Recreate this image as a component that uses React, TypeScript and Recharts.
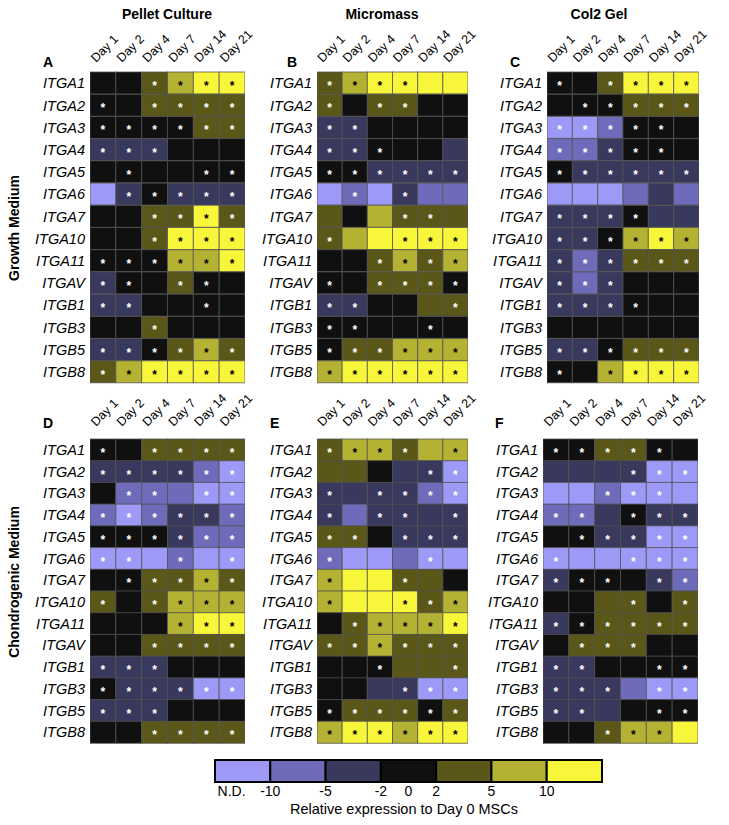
import React from "react";
import { BarChart, Bar, XAxis, YAxis } from "recharts";

const genes = ["ITGA1", "ITGA2", "ITGA3", "ITGA4", "ITGA5", "ITGA6", "ITGA7", "ITGA10", "ITGA11", "ITGAV", "ITGB1", "ITGB3", "ITGB5", "ITGB8"];
const days = ["Day 1", "Day 2", "Day 4", "Day 7", "Day 14", "Day 21"];

// codes: n = N.D., p = -10..-5, d = -5..-2, b = -2..2, o = 2..5, l = 5..10, y = >10 ; "*" = significant
const pelletGrowth = [
  "b b o* l* y* y*",
  "b* b o* o* o* o*",
  "b* b* b* b* o* o*",
  "d* d* d* b b b",
  "b b* b b b* b*",
  "n d* b* d* d* d*",
  "b b o* o* y* o*",
  "b b o* y* y* y*",
  "b* b* b* l* l* y*",
  "d* b* b o* b* b",
  "d* d* b b b* b",
  "b b o* b b b",
  "d* d* b* o* l* o*",
  "o* l* y* y* y* y*",
];
const micromassGrowth = [
  "o* l* y* y* y y",
  "o* b o* o* b b",
  "d* d* b b b b",
  "d* d* b* b b d",
  "b* b* d* d* d* d*",
  "n p* n d* p p",
  "o b l o* o* o",
  "o* l y y* y* y*",
  "b b o* l* o* l*",
  "b* b o* o* o* b*",
  "d* d* b b o o*",
  "b* b* b b b* b",
  "b* o* o* l* l* l*",
  "l* y* y* y* y* y*",
];
const col2Growth = [
  "b* b o* y* y* y*",
  "b b* b* o* o* o*",
  "n* n* p* b* b* b",
  "p* p* d* b* b* b",
  "b* d* d* d* d* d*",
  "n n n p d p",
  "d* d* d* b* d d",
  "d* d* b* l* y* l*",
  "d* p* d* o* o* o*",
  "d* p* d* b b b",
  "d* d* d* b* b b",
  "b b b b b b",
  "d* d* b* o* o* o*",
  "b* b l* y* y* y*",
];
const pelletChondro = [
  "b* b o* o* o* o*",
  "d* d* d* d* p* n*",
  "b p* p* p n* n*",
  "p* n* p* d* d* p*",
  "b* b* b* d* p* p*",
  "n* n* n p* n n*",
  "b b* o* o* l* o*",
  "o* b o* l* l* l*",
  "b b b l* y* y*",
  "b b o* o* o* o*",
  "d* d* d* b b b",
  "b* d* d* d* n* n*",
  "d* d* d* b b b",
  "b b o* o* o* o*",
];
const micromassChondro = [
  "o* l* l* o* l l*",
  "o o b d d* n*",
  "d* d d* d* p* n*",
  "d* p d* d* d d*",
  "o* o* b d* d* d*",
  "p* n n p n* n",
  "l* y y o* o b",
  "l* y y y* o* l*",
  "b o* l* l* l* y*",
  "o* o* l* o* o* o*",
  "b b b* o o o*",
  "b b d d* n* n*",
  "b* o* o* o* b* o*",
  "l* y* y* l* y* y*",
];
const col2Chondro = [
  "b* b* o* o* b* b",
  "d d d d* n* n*",
  "n n p* n* n* n",
  "p* p* d b* d* d*",
  "b b* d* d* n* n*",
  "n* n n n* n* n*",
  "d* b* b* b d* p*",
  "b b o o* b o*",
  "d* b* o* o* o* o*",
  "b o* o* o* b b",
  "d* d* b b b* b*",
  "d* d* d* p n* n*",
  "d* d* d b b* b*",
  "b b o* l* l* y",
];

const legendCodes = ["n", "p", "d", "b", "o", "l", "y"];
const legendTickValues = [0.3, 1, 2, 3, 3.5, 4, 5, 6];
const legendTickLabels = ["N.D.", "-10", "-5", "-2", "0", "2", "5", "10"];

const COLORS: Record<string, string> = {
  n: "#9c9af6",
  p: "#6e6cba",
  d: "#38395c",
  b: "#101010",
  o: "#5b5719",
  l: "#b4b232",
  y: "#f7f63a",
};

const FONT = '"Liberation Sans", Arial, Helvetica, sans-serif';
const LABEL_W = 90;
const TOP = 70;
const RIGHT = 45;

const makeShape = (j: number) => (props: any) => {
  const { x, y, width, height, payload } = props;
  const code: string = payload["c" + j];
  const key = code[0];
  const star = code.endsWith("*");
  const darkStar = key === "l" || key === "y";
  return (
    <g>
      <rect x={x} y={y} width={width} height={height} fill={COLORS[key]} stroke="#505050" strokeOpacity={0.75} strokeWidth={1} />
      {star && (
        <text x={x + width / 2} y={y + height / 2 + 7} textAnchor="middle" fontSize={12} fontWeight="bold" fill={darkStar ? "#000" : "#fff"} fontFamily={FONT}>
          *
        </text>
      )}
    </g>
  );
};

function Heatmap({ rows, gx, gy, gw, gh, gap }: { rows: string[]; gx: number; gy: number; gw: number; gh: number; gap: number }) {
  const data = genes.map((g, i) => {
    const cells = rows[i].split(" ");
    const obj: any = { gene: g };
    cells.forEach((c, j) => {
      obj["d" + j] = 1;
      obj["c" + j] = c;
    });
    return obj;
  });
  return (
    <div style={{ position: "absolute", left: gx - LABEL_W, top: gy - TOP }}>
      <BarChart
        width={LABEL_W + gw + RIGHT}
        height={TOP + gh + 2}
        layout="vertical"
        data={data}
        margin={{ top: 0, right: RIGHT, bottom: 2, left: 0 }}
        barCategoryGap={0}
        barGap={0}
      >
        <XAxis
          type="number"
          domain={[0, 6]}
          ticks={[0.5, 1.5, 2.5, 3.5, 4.5, 5.5]}
          orientation="top"
          height={TOP}
          axisLine={false}
          tickLine={false}
          tickSize={0}
          interval={0}
          allowDataOverflow
          tick={(p: any) => {
            const i = Math.floor(p.payload.value);
            const ax = p.x - 7;
            const ay = TOP - gap;
            return (
              <text x={ax} y={ay} transform={`rotate(-45 ${ax} ${ay})`} textAnchor="start" fontSize={12.5} fontFamily={FONT} fill="#000">
                {days[i]}
              </text>
            );
          }}
        />
        <YAxis
          type="category"
          dataKey="gene"
          width={LABEL_W}
          axisLine={false}
          tickLine={false}
          tickSize={0}
          interval={0}
          tick={(p: any) => (
            <text x={LABEL_W - 5} y={p.y} dy={5.2} textAnchor="end" fontStyle="italic" fontSize={14.5} fontFamily={FONT} fill="#000">
              {p.payload.value}
            </text>
          )}
        />
        {days.map((d, j) => (
          <Bar key={d} dataKey={"d" + j} stackId="s" isAnimationActive={false} shape={makeShape(j)} />
        ))}
      </BarChart>
    </div>
  );
}

const legendData = [{ name: "legend", s0: 1, s1: 1, s2: 1, s3: 1, s4: 1, s5: 1, s6: 1 }];

function Legend() {
  const LM = 30;
  const LT = 10;
  return (
    <div style={{ position: "absolute", left: 215 - LM, top: 760 - LT }}>
      <BarChart
        width={LM + 387 + LM}
        height={LT + 22 + 40}
        layout="vertical"
        data={legendData}
        margin={{ top: LT, left: LM, right: LM, bottom: 0 }}
        barCategoryGap={0}
      >
        <XAxis
          type="number"
          domain={[0, 7]}
          ticks={legendTickValues}
          interval={0}
          height={40}
          axisLine={false}
          tickLine={false}
          tickSize={0}
          tickMargin={4}
          tickFormatter={(v: number) => legendTickLabels[legendTickValues.indexOf(v)]}
          tick={{ fontSize: 14, fill: "#000", fontFamily: FONT }}
        />
        <YAxis type="category" dataKey="name" hide />
        {legendCodes.map((c, i) => (
          <Bar key={c} dataKey={"s" + i} stackId="a" fill={COLORS[c]} stroke="#000" strokeWidth={2} isAnimationActive={false} />
        ))}
      </BarChart>
    </div>
  );
}

export default function App() {
  const bold = { fontFamily: FONT, fontWeight: "bold" as const, fontSize: 14, fill: "#000" };
  const letter = { fontFamily: FONT, fontWeight: 900, fontSize: 14, fill: "#000" };
  return (
    <div style={{ position: "absolute", left: 0, top: 0, width: 729, height: 825, background: "#fff", overflow: "hidden" }}>
      <Heatmap rows={pelletGrowth} gx={90} gy={72} gw={155} gh={311} gap={9} />
      <Heatmap rows={micromassGrowth} gx={317} gy={72} gw={151} gh={311} gap={9} />
      <Heatmap rows={col2Growth} gx={547} gy={72} gw={152} gh={311} gap={9} />
      <Heatmap rows={pelletChondro} gx={90} gy={439} gw={155} gh={304} gap={12} />
      <Heatmap rows={micromassChondro} gx={317} gy={439} gw={151} gh={304} gap={12} />
      <Heatmap rows={col2Chondro} gx={543} gy={439} gw={155} gh={304} gap={12} />
      <Legend />
      <svg width={729} height={825} style={{ position: "absolute", left: 0, top: 0, pointerEvents: "none" }}>
        <text x={167} y={19} textAnchor="middle" {...bold}>Pellet Culture</text>
        <text x={382} y={19} textAnchor="middle" {...bold}>Micromass</text>
        <text x={599} y={19} textAnchor="middle" {...bold}>Col2 Gel</text>
        <text x={43} y={67} {...letter}>A</text>
        <text x={287} y={67} {...letter}>B</text>
        <text x={510} y={67} {...letter}>C</text>
        <text x={43} y={428} {...letter}>D</text>
        <text x={270} y={428} {...letter}>E</text>
        <text x={495} y={428} {...letter}>F</text>
        <text x={19} y={228} textAnchor="middle" transform="rotate(-90 19 228)" {...bold}>Growth Medium</text>
        <text x={19} y={582} textAnchor="middle" transform="rotate(-90 19 582)" {...bold}>Chondrogenic Medium</text>
        <text x={404} y={814} textAnchor="middle" fontFamily={FONT} fontSize={14.5} fill="#000">Relative expression to Day 0 MSCs</text>
      </svg>
    </div>
  );
}
